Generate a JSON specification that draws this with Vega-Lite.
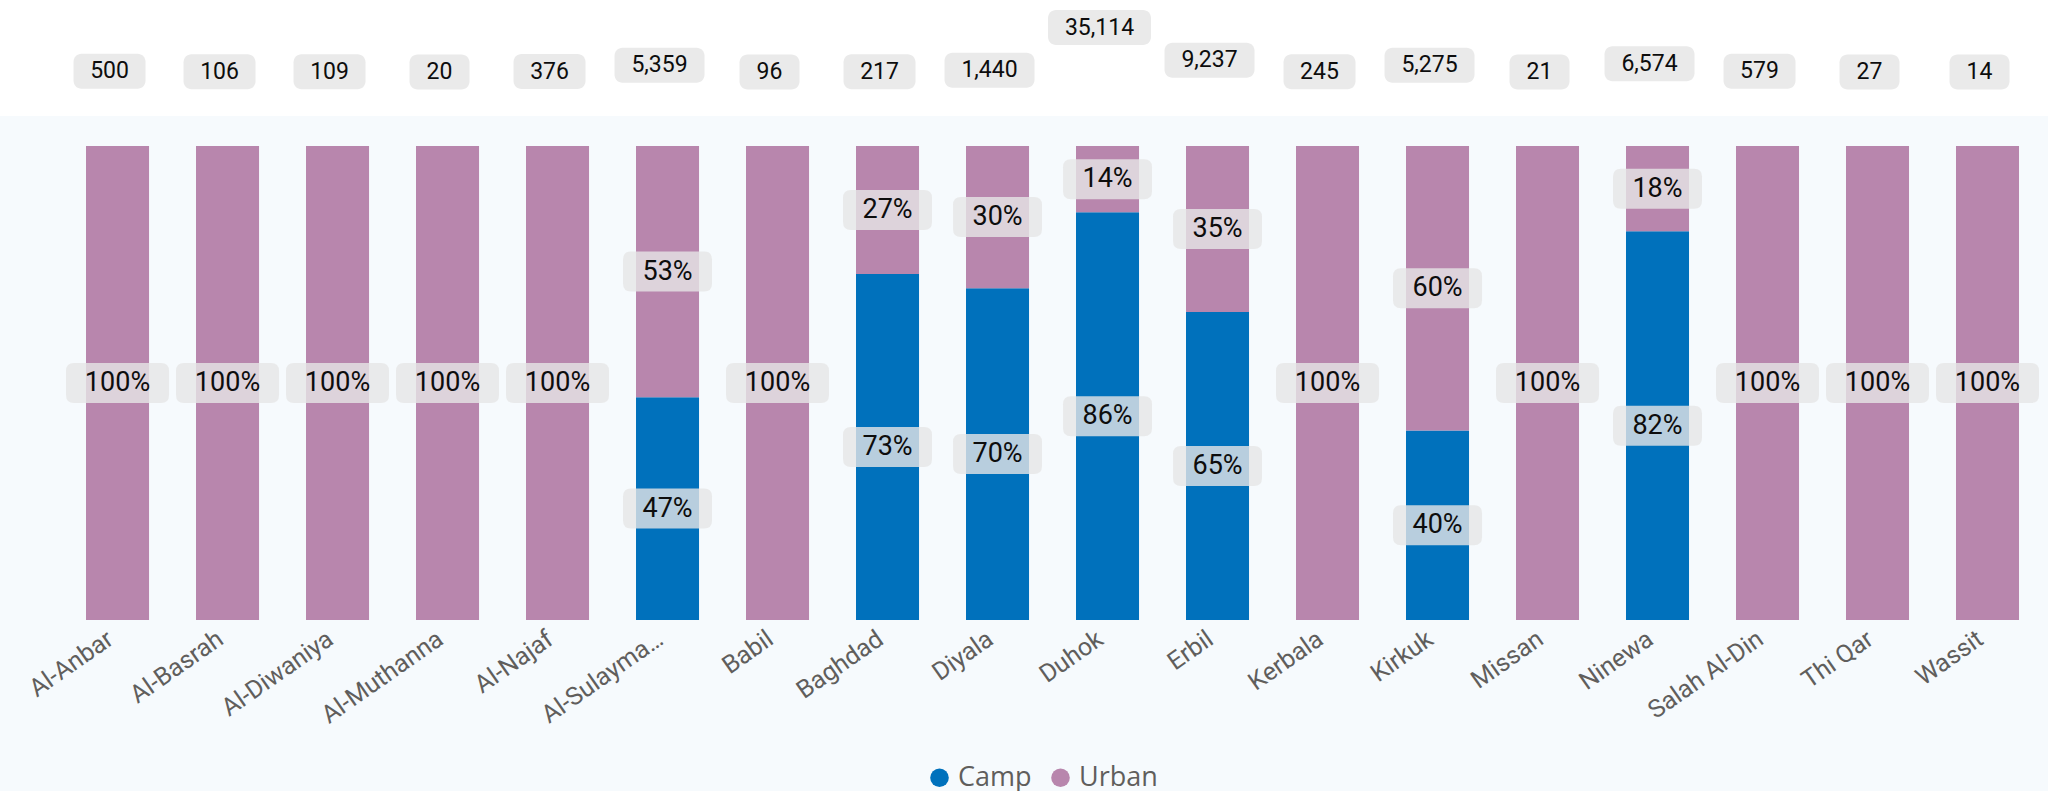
{
  "$schema": "https://vega.github.io/schema/vega-lite/v6.json",
  "width": 2048,
  "height": 675,
  "autosize": "none",
  "padding": {"left": 0, "right": 0, "top": 116, "bottom": 0},
  "background": "#FFFFFF",
  "config": {"view": {"stroke": null, "fill": "#F6FAFD"}},
  "datasets": {
    "shares": [
      {"governorate": "Al-Anbar", "type": "Urban", "share": 1},
      {"governorate": "Al-Basrah", "type": "Urban", "share": 1},
      {"governorate": "Al-Diwaniya", "type": "Urban", "share": 1},
      {"governorate": "Al-Muthanna", "type": "Urban", "share": 1},
      {"governorate": "Al-Najaf", "type": "Urban", "share": 1},
      {"governorate": "Al-Sulaymaniyah", "type": "Camp", "share": 0.47},
      {"governorate": "Al-Sulaymaniyah", "type": "Urban", "share": 0.53},
      {"governorate": "Babil", "type": "Urban", "share": 1},
      {"governorate": "Baghdad", "type": "Camp", "share": 0.73},
      {"governorate": "Baghdad", "type": "Urban", "share": 0.27},
      {"governorate": "Diyala", "type": "Camp", "share": 0.70},
      {"governorate": "Diyala", "type": "Urban", "share": 0.30},
      {"governorate": "Duhok", "type": "Camp", "share": 0.86},
      {"governorate": "Duhok", "type": "Urban", "share": 0.14},
      {"governorate": "Erbil", "type": "Camp", "share": 0.65},
      {"governorate": "Erbil", "type": "Urban", "share": 0.35},
      {"governorate": "Kerbala", "type": "Urban", "share": 1},
      {"governorate": "Kirkuk", "type": "Camp", "share": 0.40},
      {"governorate": "Kirkuk", "type": "Urban", "share": 0.60},
      {"governorate": "Missan", "type": "Urban", "share": 1},
      {"governorate": "Ninewa", "type": "Camp", "share": 0.82},
      {"governorate": "Ninewa", "type": "Urban", "share": 0.18},
      {"governorate": "Salah Al-Din", "type": "Urban", "share": 1},
      {"governorate": "Thi Qar", "type": "Urban", "share": 1},
      {"governorate": "Wassit", "type": "Urban", "share": 1}
    ],
    "totals": [
      {"governorate": "Al-Anbar", "total": 500},
      {"governorate": "Al-Basrah", "total": 106},
      {"governorate": "Al-Diwaniya", "total": 109},
      {"governorate": "Al-Muthanna", "total": 20},
      {"governorate": "Al-Najaf", "total": 376},
      {"governorate": "Al-Sulaymaniyah", "total": 5359},
      {"governorate": "Babil", "total": 96},
      {"governorate": "Baghdad", "total": 217},
      {"governorate": "Diyala", "total": 1440},
      {"governorate": "Duhok", "total": 35114},
      {"governorate": "Erbil", "total": 9237},
      {"governorate": "Kerbala", "total": 245},
      {"governorate": "Kirkuk", "total": 5275},
      {"governorate": "Missan", "total": 21},
      {"governorate": "Ninewa", "total": 6574},
      {"governorate": "Salah Al-Din", "total": 579},
      {"governorate": "Thi Qar", "total": 27},
      {"governorate": "Wassit", "total": 14}
    ]
  },
  "encoding": {
    "x": {
      "field": "governorate",
      "type": "nominal",
      "scale": {"paddingInner": 0.427, "paddingOuter": 0.5227, "align": 0.748},
      "axis": {
        "title": null,
        "domain": false,
        "ticks": false,
        "grid": false,
        "offset": -171,
        "labelAngle": -35,
        "labelAlign": "right",
        "labelBaseline": "top",
        "labelFont": "Roboto",
        "labelFontSize": 25,
        "labelColor": "#605E5C",
        "labelPadding": 6,
        "labelOffset": -14,
        "labelLimit": 148
      }
    }
  },
  "resolve": {"scale": {"y": "independent"}},
  "layer": [
    {
      "data": {"name": "shares"},
      "layer": [
        {
          "mark": {"type": "bar"},
          "encoding": {
            "y": {"field": "share", "type": "quantitative", "stack": "zero", "scale": {"domain": [0, 1], "range": [504, 30], "nice": false}, "axis": null},
            "color": {
              "field": "type",
              "type": "nominal",
              "scale": {"domain": ["Camp", "Urban"], "range": ["#0071BC", "#B886AD"]},
              "legend": {
                "orient": "none",
                "legendX": 926,
                "legendY": 648,
                "direction": "horizontal",
                "title": null,
                "symbolType": "circle",
                "symbolSize": 346,
                "symbolStrokeWidth": 0,
                "labelFont": "Open Sans",
                "labelFontSize": 27,
                "labelColor": "#605E5C",
                "labelOffset": 5,
                "columnPadding": 15,
                "padding": 0
              }
            },
            "order": {"field": "type", "type": "nominal", "sort": "ascending"}
          }
        },
        {
          "transform": [{"filter": "datum.share == 1"}],
          "mark": {
            "type": "point",
            "shape": "M-2.175,-1L2.175,-1Q2.575,-1 2.575,-0.6L2.575,0.6Q2.575,1 2.175,1L-2.175,1Q-2.575,1 -2.575,0.6L-2.575,-0.6Q-2.575,-1 -2.175,-1Z",
            "size": 1600,
            "filled": true,
            "fill": "#E6E6E6",
            "opacity": 0.8,
            "strokeWidth": 0
          },
          "encoding": {
            "y": {"field": "share", "type": "quantitative", "stack": "zero", "bandPosition": 0.5, "axis": null},
            "detail": {"field": "type"},
            "order": {"field": "type", "type": "nominal", "sort": "ascending"}
          }
        },
        {
          "transform": [{"filter": "datum.share < 1"}],
          "mark": {
            "type": "point",
            "shape": "M-1.825,-1L1.825,-1Q2.225,-1 2.225,-0.6L2.225,0.6Q2.225,1 1.825,1L-1.825,1Q-2.225,1 -2.225,0.6L-2.225,-0.6Q-2.225,-1 -1.825,-1Z",
            "size": 1600,
            "filled": true,
            "fill": "#E6E6E6",
            "opacity": 0.8,
            "strokeWidth": 0
          },
          "encoding": {
            "y": {"field": "share", "type": "quantitative", "stack": "zero", "bandPosition": 0.5, "axis": null},
            "detail": {"field": "type"},
            "order": {"field": "type", "type": "nominal", "sort": "ascending"}
          }
        },
        {
          "mark": {"type": "text", "font": "Roboto", "fontSize": 27, "color": "#0D0D0D", "baseline": "middle", "align": "center"},
          "encoding": {
            "y": {"field": "share", "type": "quantitative", "stack": "zero", "bandPosition": 0.5, "axis": null},
            "detail": {"field": "type"},
            "order": {"field": "type", "type": "nominal", "sort": "ascending"},
            "text": {"field": "share", "type": "quantitative", "format": ".0%"}
          }
        }
      ]
    },
    {
      "data": {"name": "totals"},
      "encoding": {
        "y": {"field": "total", "type": "quantitative", "scale": {"domain": [0, 35114], "range": [-44, -88.5], "nice": false, "zero": false}, "axis": null}
      },
      "layer": [
        {
          "transform": [{"filter": "datum.total < 100"}],
          "mark": {"type": "rect", "width": 60, "height": 35, "cornerRadius": 8, "color": "#EAEAEA", "xOffset": -8}
        },
        {
          "transform": [{"filter": "datum.total >= 100 && datum.total < 1000"}],
          "mark": {"type": "rect", "width": 72, "height": 35, "cornerRadius": 8, "color": "#EAEAEA", "xOffset": -8}
        },
        {
          "transform": [{"filter": "datum.total >= 1000 && datum.total < 10000"}],
          "mark": {"type": "rect", "width": 90, "height": 35, "cornerRadius": 8, "color": "#EAEAEA", "xOffset": -8}
        },
        {
          "transform": [{"filter": "datum.total >= 10000"}],
          "mark": {"type": "rect", "width": 103, "height": 35, "cornerRadius": 8, "color": "#EAEAEA", "xOffset": -8}
        },
        {
          "mark": {"type": "text", "font": "Roboto", "fontSize": 23, "color": "#0D0D0D", "baseline": "middle", "align": "center", "xOffset": -8},
          "encoding": {
            "text": {"field": "total", "type": "quantitative", "format": ","}
          }
        }
      ]
    }
  ]
}
